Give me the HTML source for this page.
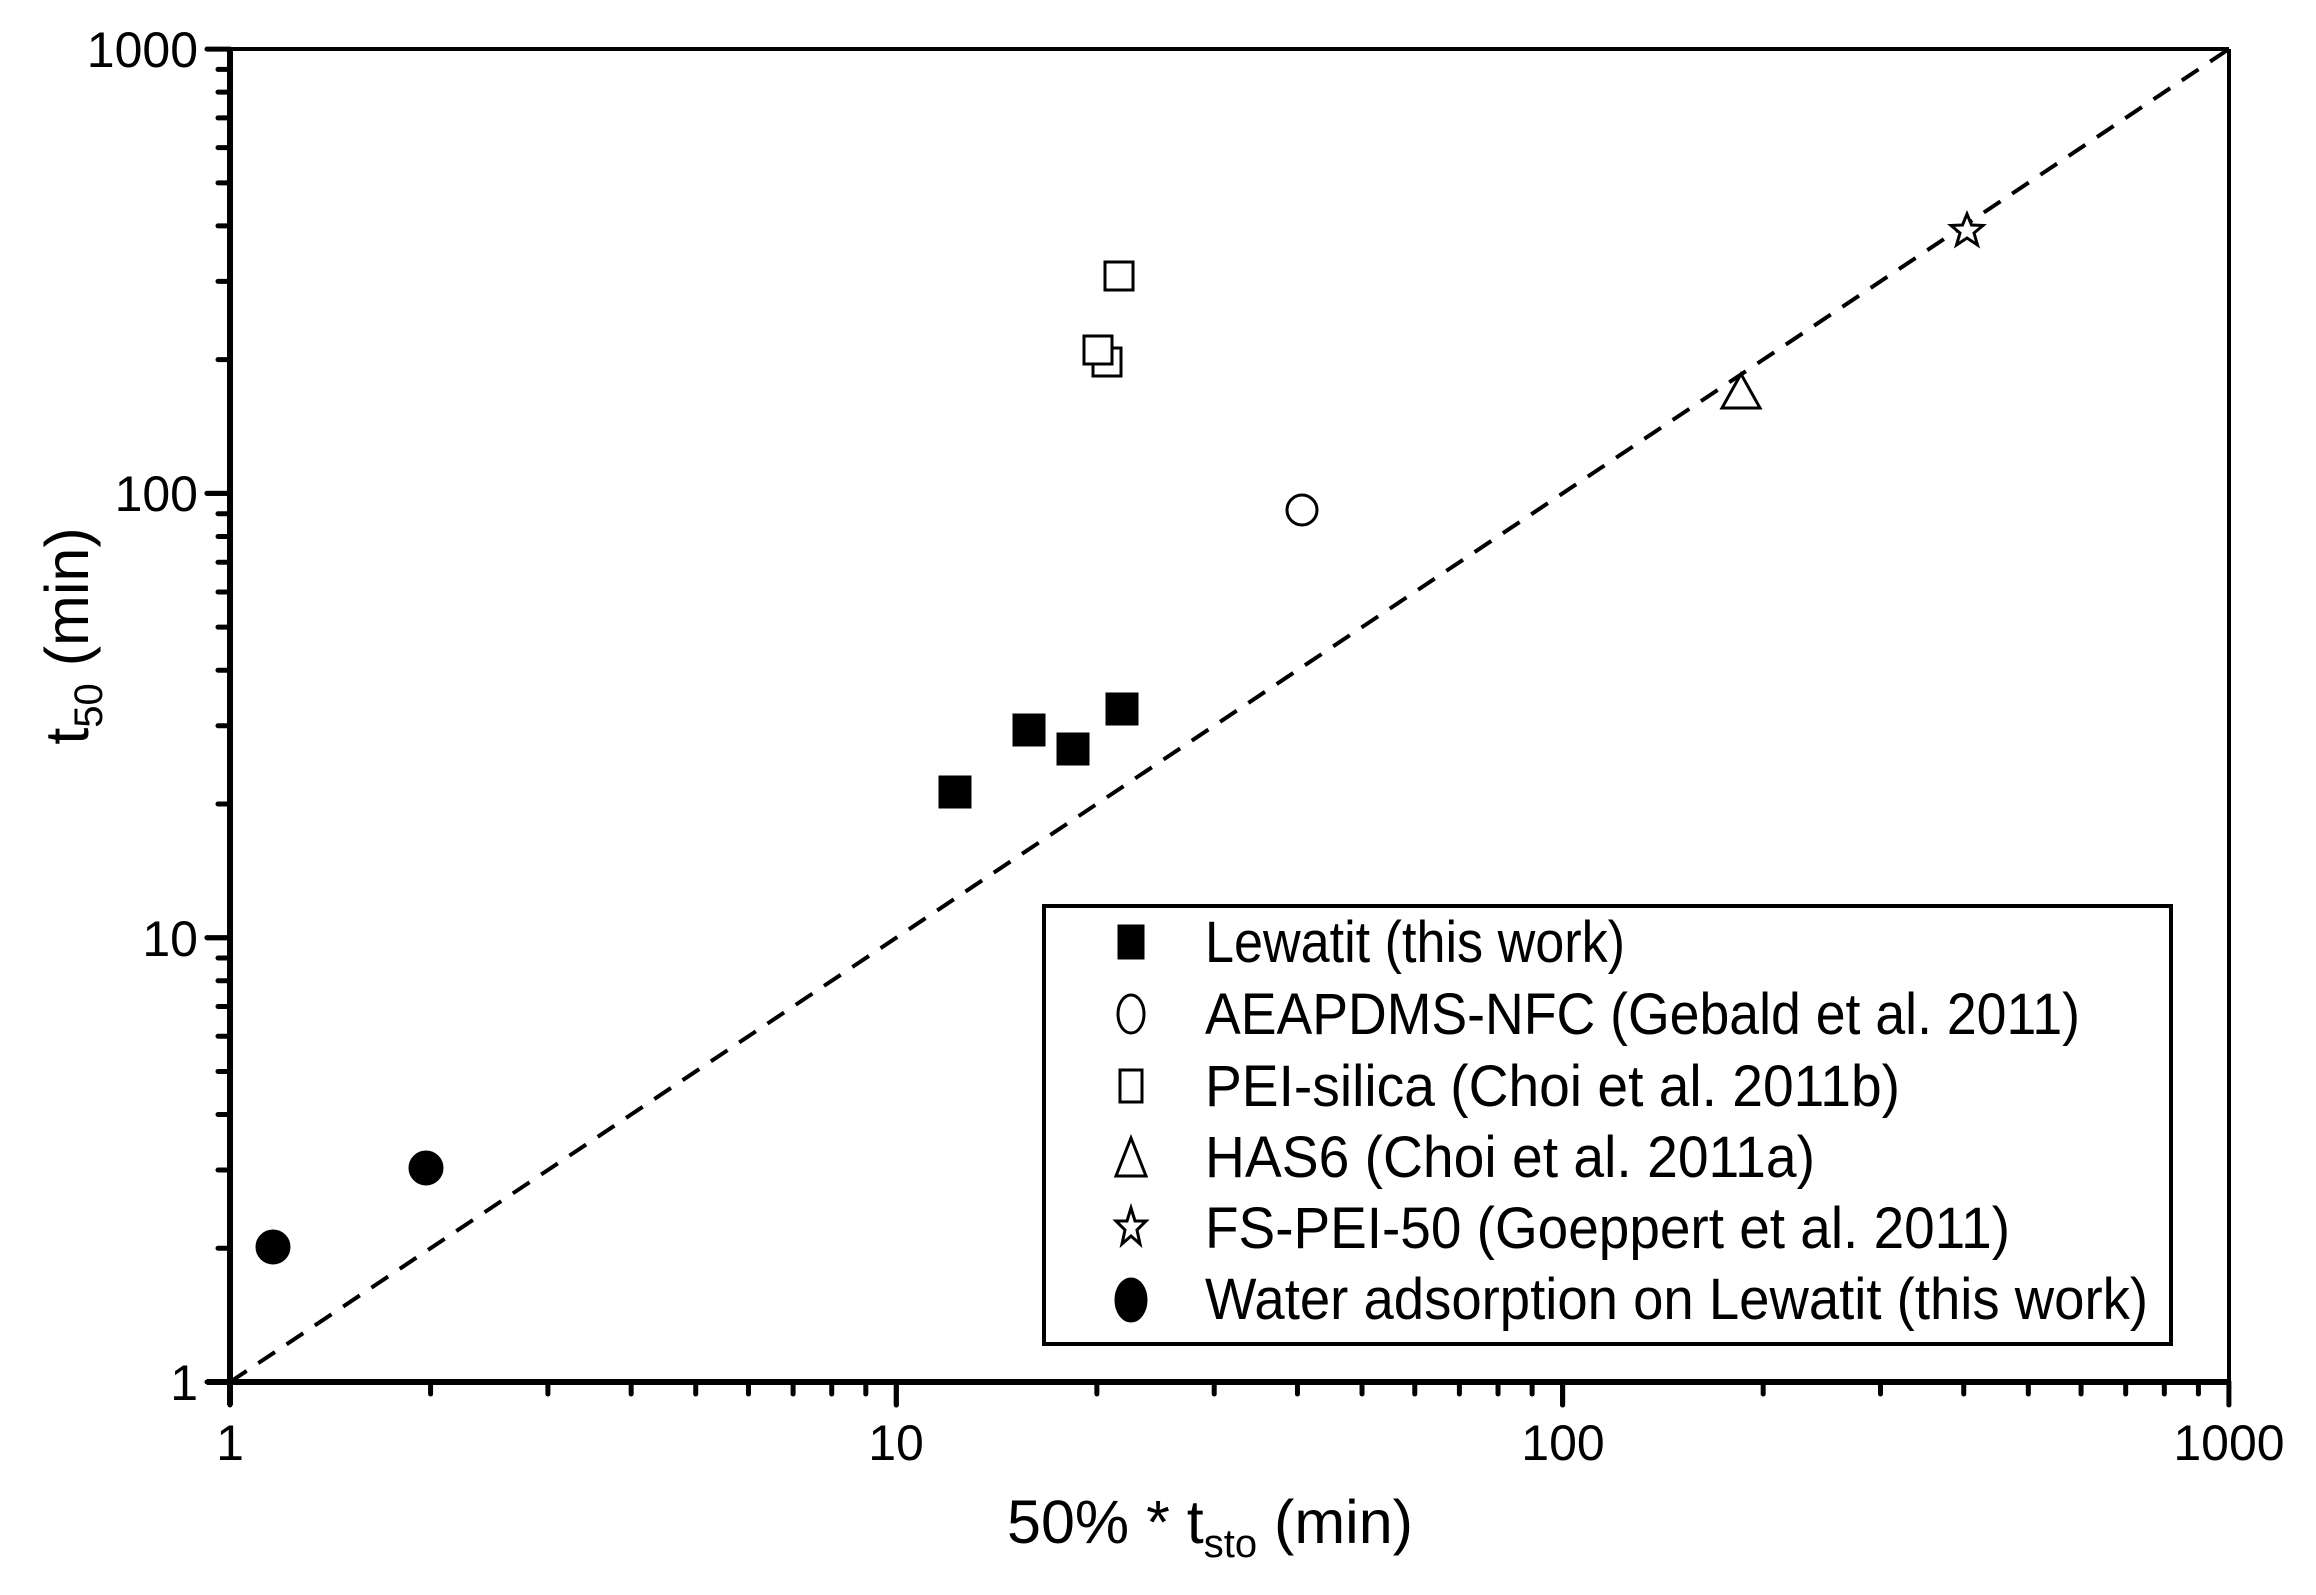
<!DOCTYPE html>
<html><head><meta charset="utf-8"><style>
html,body{margin:0;padding:0;background:#fff;}
svg{display:block;}
text{font-family:"Liberation Sans",Arial,sans-serif;fill:#000;}
</style></head><body>
<svg id="s" width="2316" height="1595" viewBox="0 0 2316 1595" xmlns="http://www.w3.org/2000/svg">
<rect width="2316" height="1595" fill="#fff"/>
<g id="ticks" stroke="#000" stroke-width="5" stroke-linecap="round"></g>
<line x1="230" y1="49" x2="2229" y2="49" stroke="#000" stroke-width="4"/>
<line x1="2229" y1="49" x2="2229" y2="1382" stroke="#000" stroke-width="4"/>
<line x1="230" y1="49" x2="230" y2="1405" stroke="#000" stroke-width="6"/>
<line x1="207" y1="1382" x2="2229" y2="1382" stroke="#000" stroke-width="6"/>
<line x1="230" y1="1382" x2="2229" y2="49" stroke="#000" stroke-width="4" stroke-dasharray="20,14"/>
<g font-size="50">
<text x="198" y="67" text-anchor="end">1000</text>
<text x="198" y="511" text-anchor="end">100</text>
<text x="198" y="956" text-anchor="end">10</text>
<text x="198" y="1400" text-anchor="end">1</text>
<text x="230" y="1460" text-anchor="middle">1</text>
<text x="896" y="1460" text-anchor="middle">10</text>
<text x="1563" y="1460" text-anchor="middle">100</text>
<text x="2229" y="1460" text-anchor="middle">1000</text>
</g>
<text x="1210" y="1543" text-anchor="middle" font-size="61">50% * t<tspan font-size="40" dy="14">sto</tspan><tspan dy="-14"> (min)</tspan></text>
<text transform="translate(88,636) rotate(-90)" text-anchor="middle" font-size="61">t<tspan font-size="40" dy="14">50</tspan><tspan dy="-14"> (min)</tspan></text>
<g stroke="#000" stroke-width="3" fill="#000">
<rect x="940" y="777" width="30" height="30"/>
<rect x="1014" y="715" width="30" height="30"/>
<rect x="1058" y="734" width="30" height="30"/>
<rect x="1107" y="694" width="30" height="30"/>
<circle cx="273" cy="1247" r="16"/>
<circle cx="426" cy="1168" r="16"/>
</g>
<g stroke="#000" stroke-width="3" fill="#fff">
<circle cx="1302" cy="510" r="15"/>
<rect x="1093" y="348" width="28" height="28"/>
<rect x="1105" y="262" width="28" height="28"/>
<rect x="1084" y="336" width="28" height="28"/>
<polygon points="1741,374 1760,408 1722,408"/>
<polygon points="1967,214 1971.5,225 1983,225.5 1974,233 1977.5,245 1967,238 1956.5,245 1960,233 1951,225.5 1962.5,225"/>
</g>
<rect x="1044" y="906" width="1127" height="438" fill="none" stroke="#000" stroke-width="4"/>
<g stroke="#000" stroke-width="3">
<rect x="1119" y="926" width="24" height="32" fill="#000"/>
<ellipse cx="1131" cy="1014" rx="13" ry="19" fill="#fff"/>
<rect x="1120" y="1070" width="22" height="32" fill="#fff"/>
<polygon points="1131,1138 1146,1176 1116,1176" fill="#fff"/>
<polygon points="1131,1208 1135,1221 1146,1221 1137,1230 1140,1244 1131,1236 1122,1244 1125,1230 1116,1221 1127,1221" fill="#fff"/>
<ellipse cx="1131" cy="1300" rx="15" ry="21" fill="#000"/>
</g>
<g font-size="58">
<text x="1205" y="962" textLength="420" lengthAdjust="spacingAndGlyphs">Lewatit (this work)</text>
<text x="1205" y="1034" textLength="875" lengthAdjust="spacingAndGlyphs">AEAPDMS-NFC (Gebald et al. 2011)</text>
<text x="1205" y="1106" textLength="695" lengthAdjust="spacingAndGlyphs">PEI-silica (Choi et al. 2011b)</text>
<text x="1205" y="1177" textLength="610" lengthAdjust="spacingAndGlyphs">HAS6 (Choi et al. 2011a)</text>
<text x="1205" y="1248" textLength="805" lengthAdjust="spacingAndGlyphs">FS-PEI-50 (Goeppert et al. 2011)</text>
<text x="1205" y="1319" textLength="943" lengthAdjust="spacingAndGlyphs">Water adsorption on Lewatit (this work)</text>
</g>
<script>
(function(){
var g=document.getElementById('ticks'),ns='http://www.w3.org/2000/svg';
function L(x1,y1,x2,y2){var l=document.createElementNS(ns,'line');l.setAttribute('x1',x1);l.setAttribute('y1',y1);l.setAttribute('x2',x2);l.setAttribute('y2',y2);g.appendChild(l);}
for(var d=0;d<3;d++){for(var k=1;k<=10;k++){
var lv=d+Math.log10(k);var major=(k==1||k==10);var len=major?23:12;
var x=230+666.3*lv;L(x,1382,x,1382+len);
var y=1382-444.3*lv;L(230,y,230-len,y);}}
})();
</script>
</svg>
</body></html>
